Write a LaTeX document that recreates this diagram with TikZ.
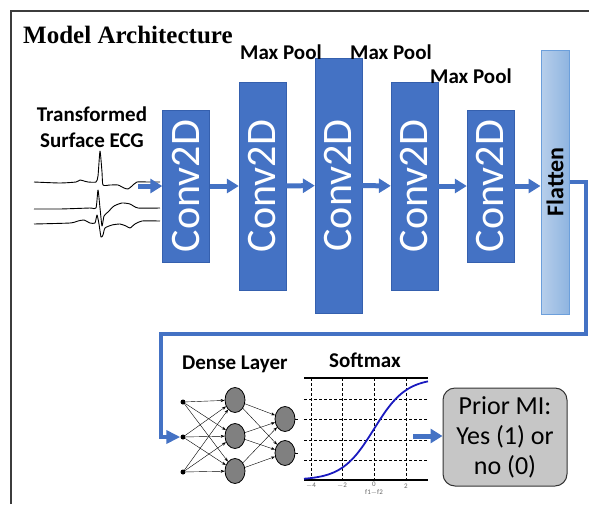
\documentclass[tikz,border=0pt]{standalone}
\usepackage{graphicx}
\usepackage{fontspec}
\setmainfont{Carlito}
\newfontfamily\titlefont{Liberation Serif}
\usetikzlibrary{arrows.meta,shapes.geometric,positioning,calc}
\definecolor{convblue}{HTML}{4472C4}
\definecolor{convedge}{HTML}{3560AE}
\definecolor{flatL}{HTML}{B7CFEB}
\definecolor{flatR}{HTML}{8FB4E0}
\definecolor{flatedge}{HTML}{6C9FDB}
\definecolor{framecol}{HTML}{3C3C3C}
\definecolor{curveblue}{HTML}{1A1ABF}

\begin{document}
\begin{tikzpicture}[x=1pt, y=-1pt,
    conv/.style={draw=convedge, fill=convblue, minimum width=47pt, inner sep=0pt, text=white, font=\fontsize{42}{42}\selectfont},
    flat/.style={draw=flatedge, line width=1pt, left color=flatL, right color=flatR, minimum width=28pt, minimum height=264pt, inner sep=0pt, font=\bfseries\fontsize{24}{24}\selectfont},
    lbl/.style={anchor=base west, inner sep=0pt, font=\bfseries\fontsize{21}{21}\selectfont},
    arr/.style={-{Triangle[length=12pt,width=14pt]}, line width=5pt, draw=convblue},
    route/.style={-{Triangle[length=14pt,width=13pt]}, line width=4pt, draw=convblue},
    inp/.style={circle, fill=black, minimum size=5pt, inner sep=0pt},
    neuron/.style={ellipse, draw=black, fill=gray, line width=0.8pt, minimum width=20pt, minimum height=25pt, inner sep=0pt},
    syn/.style={-{Stealth[length=4pt,width=3pt]}, line width=0.4pt},
    tick/.style={inner sep=0pt, text=black!60, font=\fontsize{7}{7}\selectfont},
    outbox/.style={draw=black!80, line width=1pt, fill=gray!45, rounded corners=12pt, minimum width=124pt, minimum height=98pt, align=center, font=\fontsize{26}{30}\selectfont}
]
\useasboundingbox (0,0) rectangle (589,504);
\draw[framecol, line width=1.2pt] (11,504) -- (11,11) -- (589,11);
\node[anchor=base west, inner sep=0pt, font=\titlefont\bfseries\fontsize{25}{25}\selectfont] (title) at (23,43) {Model Architecture};

% input signal
\node[align=center, inner sep=0pt, font=\bfseries\fontsize{21}{26}\selectfont] (ecglbl) at (92,127) {Transformed\\Surface ECG};
\draw[line width=0.9pt, line join=round] plot[smooth, tension=0.35] coordinates {(34,182) (60,183) (76,182) (80,180) (84,181) (88,182) (96,182) (98,176) (100,151) (102,172) (103,185) (110,185) (118,185) (124,188) (128,189) (132,186) (137,182) (148,182) (160,182)};
\draw[line width=0.9pt, line join=round] plot[smooth, tension=0.35] coordinates {(34,209) (60,209) (90,208) (96,208) (98,190) (100,208) (102,226) (104,216) (108,212) (114,206) (122,203) (130,204) (138,208) (160,208)};
\draw[line width=0.9pt, line join=round] plot[smooth, tension=0.35] coordinates {(34,224) (70,223) (78,221) (84,220) (90,223) (95,223) (97,215) (99,224) (101,237) (103,235) (105,228) (112,225) (120,224) (126,226) (130,228) (135,224) (142,221) (160,221)};
\coordinate (ecgout) at (138,186);

% conv stack
\node[conv, minimum height=152pt] (c1) at (186,186) {\rotatebox{90}{Conv2D}};
\node[conv, minimum height=208pt] (c2) at (262.5,186) {\rotatebox{90}{Conv2D}};
\node[conv, minimum height=255pt] (c3) at (338.5,185.5) {\rotatebox{90}{Conv2D}};
\node[conv, minimum height=208pt] (c4) at (414.5,186) {\rotatebox{90}{Conv2D}};
\node[conv, minimum height=152pt] (c5) at (490.5,186) {\rotatebox{90}{Conv2D}};
\node[flat] (flat) at (555,182) {\rotatebox{90}{Flatten}};

\node[lbl] (mp1) at (240,59) {Max Pool};
\node[lbl] (mp2) at (350,59) {Max Pool};
\node[lbl] (mp3) at (430,83) {Max Pool};

\draw[arr] (ecgout) -- (c1);
\draw[arr] (c1) -- (c2);
\draw[arr] (c2) -- (c3);
\draw[arr] (c3) -- (c4);
\draw[arr] (c4) -- (c5);
\draw[arr] (c5.east |- 0,186) -- (flat.west |- 0,186);

% dense layer
\node[lbl] (denselbl) at (182,369) {Dense Layer};
\node[inp] (in1) at (183,402) {};
\node[inp] (in2) at (183,437) {};
\node[inp] (in3) at (183,472) {};
\node[neuron] (h1) at (235,400) {};
\node[neuron] (h2) at (235,436) {};
\node[neuron] (h3) at (235,471) {};
\node[neuron] (o1) at (285,419) {};
\node[neuron] (o2) at (285,453) {};

\draw[route] (flat.east) -- (586,182) -- (586,334) -- (161,334) -- (161,437) -- (in2);

\draw[syn] (in1) -- (h1); \draw[syn] (in1) -- (h2); \draw[syn] (in1) -- (h3);
\draw[syn] (in2) -- (h1); \draw[syn] (in2) -- (h2); \draw[syn] (in2) -- (h3);
\draw[syn] (in3) -- (h1); \draw[syn] (in3) -- (h2); \draw[syn] (in3) -- (h3);
\draw[syn] (h1) -- (o1); \draw[syn] (h1) -- (o2);
\draw[syn] (h2) -- (o1); \draw[syn] (h2) -- (o2);
\draw[syn] (h3) -- (o1); \draw[syn] (h3) -- (o2);
\draw[line width=0.4pt] (o1.east) -- ++(3,0);
\draw[line width=0.4pt] (o2.east) -- ++(3,0);

% softmax
\node[lbl] (softlbl) at (329,367) {Softmax};
\draw[black, dash pattern=on 3pt off 2pt, line width=0.8pt] (311,378) -- (311,480) (342,378) -- (342,480) (374,378) -- (374,480) (406,378) -- (406,480);
\draw[black, dash pattern=on 3pt off 2pt, line width=0.8pt] (304,399) -- (428,399) (304,419) -- (428,419) (304,440) -- (428,440) (304,460) -- (428,460);
\draw[line width=1.2pt] (304,378) -- (428,378);
\draw[line width=1.8pt] (304,480) -- (428,480);
\draw[curveblue, line width=1.8pt, domain=-4.375:3.375, samples=80] plot ({374+16*\x}, {480-102/(1+exp(-\x))});
\node[tick] (t1) at (311,486) {$-$4};
\node[tick] (t2) at (342,486) {$-$2};
\node[tick] (t3) at (374,484) {0};
\node[tick] (t4) at (406,486) {2};
\node[tick] (t5) at (374,492.5) {f1$-$f2};
\coordinate (softout) at (413,436);

% output
\node[outbox] (out) at (505,437) {Prior MI:\\Yes (1) or\\no (0)};
\draw[arr] (softout) -- (softout -| out.west);
\end{tikzpicture}
\end{document}
